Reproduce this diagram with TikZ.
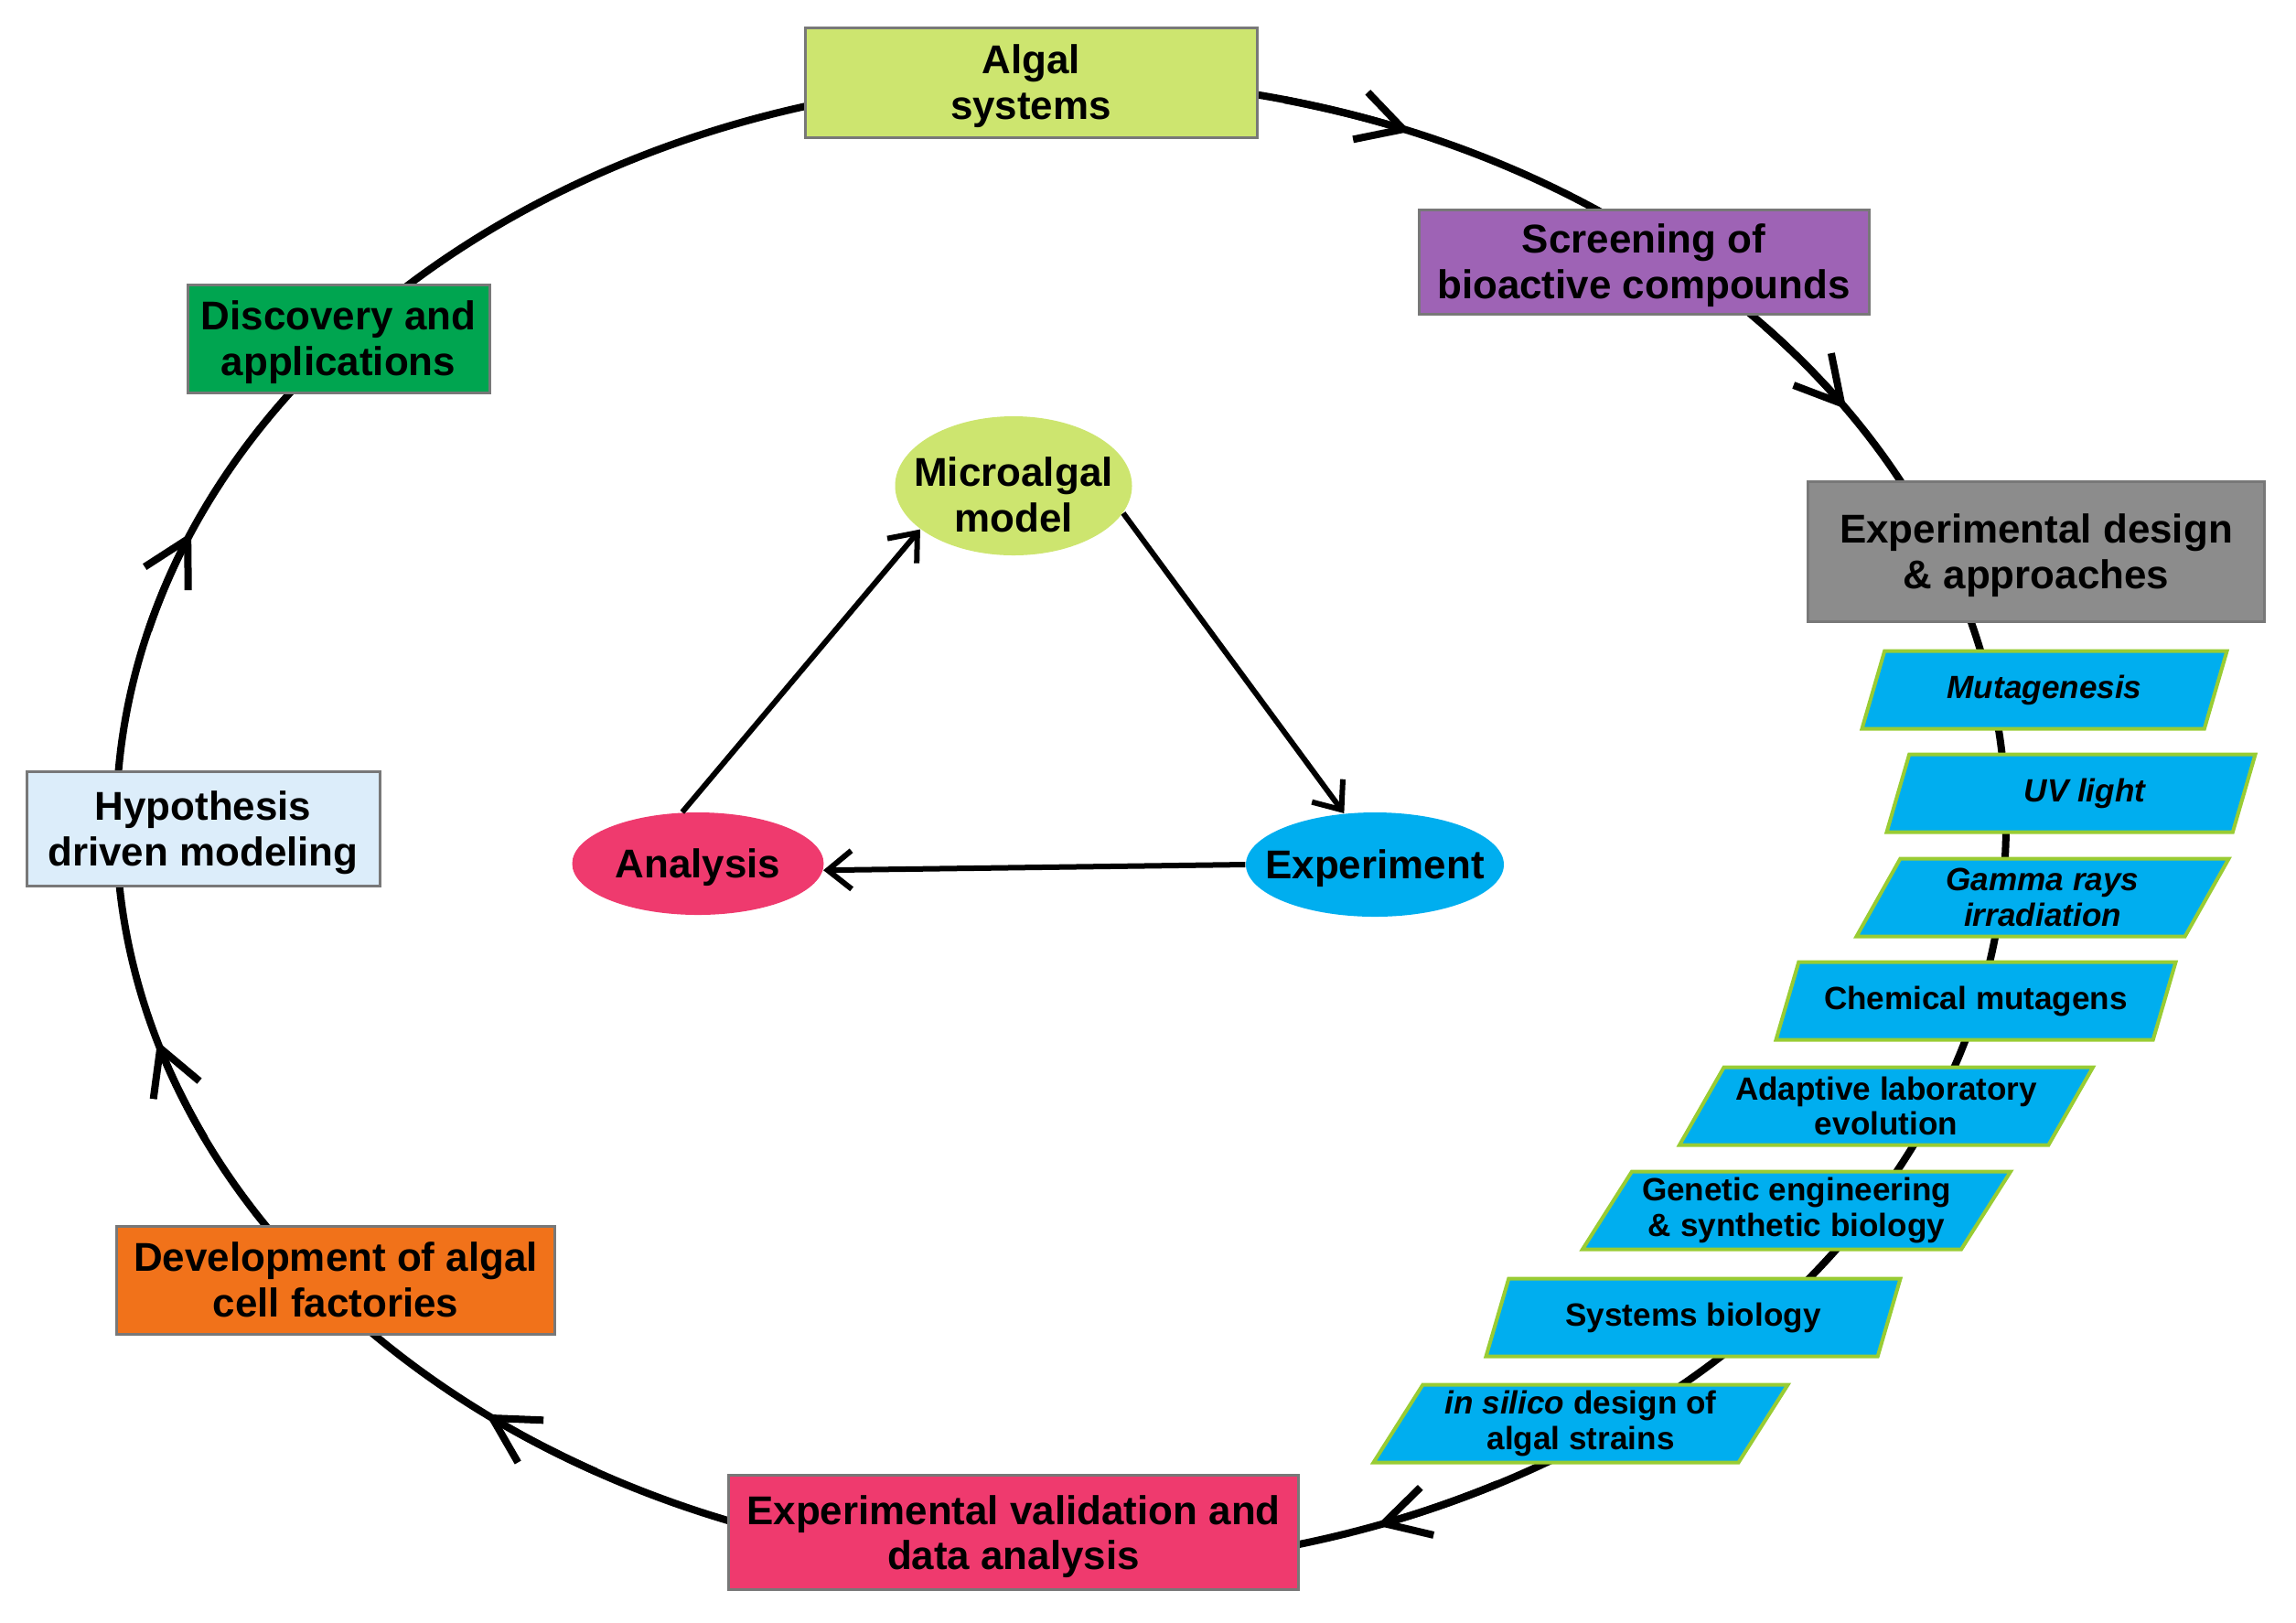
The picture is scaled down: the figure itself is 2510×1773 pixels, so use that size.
\documentclass[tikz,border=0pt]{standalone}
\usepackage{fontspec}
\setmainfont{Liberation Sans}
\usetikzlibrary{shapes.geometric,arrows.meta}

\begin{document}
\begin{tikzpicture}[x=0.1mm,y=-0.1mm,
    ring/.style={line width=0.8mm},
    ringtip/.style={ring,-{Straight Barb[length=4.9mm,width=5.4mm]}},
    link/.style={line width=0.6mm,-{Straight Barb[length=2.6mm,width=4.2mm]}},
    box/.style={draw=framegray,line width=0.3mm,align=center,inner sep=0pt,text depth=0pt,
        font=\bfseries\fontsize{12.5}{14.2}\selectfont},
    oval/.style={ellipse,align=center,inner ysep=0pt,inner xsep=-2mm,text depth=0pt,
        font=\bfseries\fontsize{12.5}{14.2}\selectfont},
    para/.style={trapezium,trapezium left angle=53,trapezium right angle=127,
        trapezium stretches body=true,minimum height=8.5mm,inner sep=0pt,
        draw=paraline,fill=paracyan,line width=0.4mm,align=center,
        font=\bfseries\fontsize{10}{11}\selectfont},
    parait/.style={para,font=\bfseries\itshape\fontsize{10}{11}\selectfont}]
    \definecolor{algalgreen}{RGB}{205,229,111}
    \definecolor{screenpurple}{RGB}{158,99,181}
    \definecolor{designgray}{RGB}{140,140,140}
    \definecolor{discgreen}{RGB}{0,165,80}
    \definecolor{hypblue}{RGB}{220,237,250}
    \definecolor{devorange}{RGB}{241,114,26}
    \definecolor{valpink}{RGB}{239,58,110}
    \definecolor{paracyan}{RGB}{0,174,239}
    \definecolor{paraline}{RGB}{153,204,51}
    \definecolor{framegray}{RGB}{120,120,120}

    \useasboundingbox (0,0) rectangle (2510,1773);

    \draw[ring] (1160,900) ellipse [x radius=1033,y radius=814];
    \foreach \a [evaluate=\a as \b using \a-8] in {-68.3,-33.8,70.5,127.5,163,203}{
        \draw[ringtip] ([shift={(1160,900)}]\b:1033 and 814) arc[start angle=\b,end angle=\a,x radius=1033,y radius=814];
    }

    \node[box,fill=algalgreen,minimum width=49.4mm,minimum height=12mm] (alg) at (1127,90) {Algal\\systems};
    \node[box,fill=screenpurple,minimum width=49.2mm,minimum height=11.4mm] (scr) at (1797,286) {Screening of\\bioactive compounds};
    \node[box,fill=designgray,minimum width=49.9mm,minimum height=15.3mm] (exd) at (2226,603) {Experimental design\\\& approaches};
    \node[box,fill=discgreen,minimum width=33mm,minimum height=11.8mm] (dis) at (370,370) {Discovery and\\applications};
    \node[box,fill=hypblue,minimum width=38.6mm,minimum height=12.5mm] (hyp) at (222,906) {Hypothesis\\driven modeling};
    \node[box,fill=devorange,minimum width=47.9mm,minimum height=11.8mm] (dev) at (367,1399) {Development of algal\\cell factories};
    \node[box,fill=valpink,minimum width=62.3mm,minimum height=12.5mm] (val) at (1108,1675) {Experimental validation and\\data analysis};

    \node[parait,minimum width=39.9mm] (mut) at (2235,754) {Mutagenesis};
    \node[parait,minimum width=40.3mm] (uv) at (2264,867) {\hspace*{3mm}UV light};
    \node[parait,minimum width=40.7mm] (gam) at (2233,981) {Gamma rays\\irradiation};
    \node[para,minimum width=43.7mm] (che) at (2160,1094) {Chemical mutagens};
    \node[para,minimum width=45.2mm] (ada) at (2062,1209) {Adaptive laboratory\\evolution};
    \node[para,minimum width=46.8mm] (gen) at (1964,1323) {Genetic engineering\\\& synthetic biology};
    \node[para,minimum width=45.3mm] (sys) at (1851,1440) {Systems biology};
    \node[para,minimum width=45.3mm] (ins) at (1728,1556) {\textit{in silico} design of\\algal strains};

    \node[oval,fill=algalgreen,minimum width=25.9mm,minimum height=15.2mm,
        label={[align=center,yshift=-1mm,font=\bfseries\fontsize{12.5}{14.2}\selectfont]center:{Microalgal\\model}}] (mic) at (1108,531) {};
    \node[oval,fill=valpink,minimum width=27.5mm,minimum height=11.2mm] (ana) at (763,944) {Analysis};
    \node[oval,fill=paracyan,minimum width=28.2mm,minimum height=11.4mm] (exp) at (1503,945) {Experiment};

    \draw[link] (ana.107) -- (mic.205);
    \draw[link] (mic.346) -- (exp.121);
    \draw[link] (exp.180) -- (ana.357);
\end{tikzpicture}
\end{document}
